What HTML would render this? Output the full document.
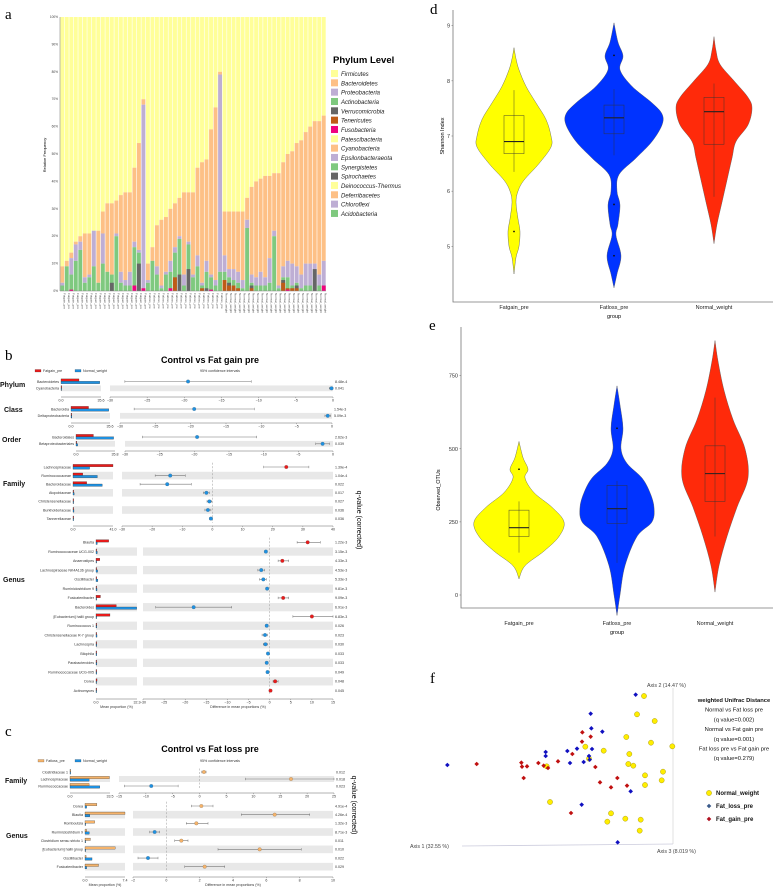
<!DOCTYPE html>
<html><head><meta charset="utf-8"><style>
html,body{margin:0;padding:0;background:#fff;}
svg{display:block;font-family:"Liberation Sans",sans-serif;}
</style></head><body>
<svg id="fig" width="778" height="887" viewBox="0 0 778 887" xmlns="http://www.w3.org/2000/svg">
<text x="5" y="19" font-family="Liberation Serif" font-size="15">a</text>
<text x="5" y="360" font-family="Liberation Serif" font-size="15">b</text>
<text x="5" y="736" font-family="Liberation Serif" font-size="15">c</text>
<text x="430" y="14" font-family="Liberation Serif" font-size="15">d</text>
<text x="429" y="330" font-family="Liberation Serif" font-size="15">e</text>
<text x="430" y="683" font-family="Liberation Serif" font-size="15">f</text>
<text x="210" y="363" font-size="9" font-weight="bold" text-anchor="middle">Control vs Fat gain pre</text>
<text x="210" y="752" font-size="9" font-weight="bold" text-anchor="middle">Control vs Fat loss pre</text>
<text x="333" y="63" font-size="9.5" font-weight="bold">Phylum Level</text>
<text transform="translate(46,155) rotate(-90)" font-size="4" text-anchor="middle">Relative Frequency</text>
<text transform="translate(357,520) rotate(90)" font-size="7" text-anchor="middle">q-value (corrected)</text>
<text transform="translate(352,805) rotate(90)" font-size="7" text-anchor="middle">q-value (corrected)</text>
<text transform="translate(444,136) rotate(-90)" font-size="5.5" text-anchor="middle">Shannon Index</text>
<text transform="translate(440,490) rotate(-90)" font-size="5.5" text-anchor="middle">Observed_OTUs</text>
<text x="614" y="318" font-size="5.5" text-anchor="middle">group</text>
<text x="617" y="634" font-size="5.5" text-anchor="middle">group</text>
</svg>
<script>
// ---------- Panel a data ----------
const aTotals=[9,11,14,18,20,21,21,22,22,29,32,32,33,35,36,36,45,54,70,10,16,24,26,27,30,32,34,36,36,36,45,47,48,59,67,80,29,29,29,29,29,34,38,40,41,42,42,43,43,47,50,51,54,55,58,60,62,62,64];
const aProteo=[3,9,12,17,18,5,6,22,3,21,7,6,21,7,4,7,18,15,68,4,11,9,2,7,11,16,20,6,18,6,13,3,11,6,4,79,13,8,8,7,4,26,6,5,7,5,12,22,2,9,11,10,9,6,10,10,10,6,11];
const aActino=[2,9,6,11,15,3,5,9,3,10,7,6,20,3,2,2,16,14,1,3,11,6,1,6,7,14,19,2,17,5,9,2,7,5,2,7,7,5,4,3,1,23,3,2,2,2,3,20,1,5,5,2,3,1,2,2,1,2,2];
const aVerruco=[0,0,0,0,0,0,0,0,0,0,0,3,0,0,0,0,0,10,0,0,0,0,0,0,0,0,6,0,8,0,0,0,1,0,0,0,0,3,1,0,0,0,2,0,0,0,0,0,0,4,0,0,2,0,0,0,8,0,0];
const aTeneri=[0,0,0,0,0,0,0,0,0,0,0,0,0,0,0,0,0,0,0,0,0,0,0,0,0,5,0,0,0,0,0,1,0,0,0,0,4,2,2,1,0,0,1,0,0,0,0,0,0,3,1,1,1,0,0,0,0,0,0];
const aFuso=[0,0,0.5,0,0,0,0,0,0,0,0,0,0,0,0,0,2,0,1,0,0,0,0,0,1,0,0,0,0,0,0,0,0,0.5,0,0,0,0,0,0,0,0,0,0,0,0,0,0,0,0,0.5,0,0,0,0,0,0,0,2];
const aGroupSizes=[19,17,23];
const aGroupNames=["Fatgain_pre","Fatloss_pre","Normal_weight"];
const aTicks=[0,10,20,30,40,50,60,70,80,90,100];
const phylaNames=["Firmicutes","Bacteroidetes","Proteobacteria","Actinobacteria","Verrucomicrobia","Tenericutes","Fusobacteria","Patescibacteria","Cyanobacteria","Epsilonbacteraeota","Synergistetes","Spirochaetes","Deinococcus-Thermus","Deferribacetes","Chloroflexi","Acidobacteria"];
const phylaColors=["#ffff99","#fdc086","#beaed4","#7fc97f","#666666","#bf5b17","#f0027f","#ffff99","#fdc086","#beaed4","#7fc97f","#666666","#ffff99","#fdc086","#beaed4","#7fc97f"];

// ---------- Panel b data ----------
const bPhylumNames=["Bacteroidetes","Cyanobacteria"];
const bPhylumA=[16,0.1]; const bPhylumB=[34.5,0.3];
const bPhylumDiff=[-19.5,-0.2]; const bPhylumLo=[-28,-0.5]; const bPhylumHi=[-11,0];
const bPhylumQ=["8.48e-4","0.041"];
const bClassNames=["Bacteroidia","Deltaproteobacteria"];
const bClassA=[16,0.3]; const bClassB=[34.5,0.8];
const bClassDiff=[-19.5,-0.6]; const bClassLo=[-28,-1]; const bClassHi=[-11,-0.2];
const bClassQ=["1.54e-3","5.09e-3"];
const bOrderNames=["Bacteroidales","Betaproteobacteriales"];
const bOrderA=[16,0.5]; const bOrderB=[34.5,1.5];
const bOrderDiff=[-19.6,-1.5]; const bOrderLo=[-27.5,-2.5]; const bOrderHi=[-11,-0.5];
const bOrderQ=["2.62e-3","0.039"];
const bFamilyNames=["Lachnospiraceae","Ruminococcaceae","Bacteroidaceae","Atopobiaceae","Christensenellaceae","Burkholderiaceae","Tannerellaceae"];
const bFamilyA=[41,10,14,0.3,0.2,0.3,0.2]; const bFamilyB=[17,25,30,1.2,0.6,1.0,0.5];
const bFamilyDiff=[24.5,-14,-15,-2,-1,-1.5,-0.5]; const bFamilyLo=[17,-19,-24,-3,-1.8,-2.5,-1]; const bFamilyHi=[32,-9,-7,-1,-0.2,-0.5,0];
const bFamilyQ=["1.39e-4","1.04e-4","0.022","0.017","0.027","0.036","0.036"];
const bGenusNames=["Blautia","Ruminococcaceae UCG-002","Anaerostipes","Lachnospiraceae NK4A136 group","Oscillibacter","Ruminiclostridium 9","Fusicatenibacter","Bacteroides","[Eubacterium] hallii group","Ruminococcus 1","Christensenellaceae R-7 group","Lachnospira","Bilophila","Parabacteroides","Ruminococcaceae UCG-005","Dorea","Actinomyces"];
const bGenusA=[10,0.1,3,0.2,0.5,0.1,3.5,16,11,0.1,0.1,0.1,0.1,0.1,0.1,0.8,0.2];
const bGenusB=[1,1,0.3,1.3,1.5,0.8,0.5,32,0.5,0.6,0.8,0.6,0.6,0.7,0.6,0.1,0];
const bGenusDiff=[9,-0.9,3,-2,-1.5,-0.6,3.2,-18,10,-0.7,-1.1,-1,-0.4,-0.7,-0.5,1.3,0.2];
const bGenusLo=[6.5,-1.2,2,-2.8,-2.4,-0.9,2,-27,5.5,-1,-1.8,-1.5,-0.7,-1,-0.8,0.8,0];
const bGenusHi=[12,-0.6,4.5,-1.2,-0.8,-0.3,4.5,-9,15,-0.4,-0.5,-0.5,-0.1,-0.4,-0.2,2,0.4];
const bGenusQ=["1.22e-3","3.15e-3","4.33e-3","4.53e-3","5.33e-3","9.81e-3","9.09e-3","6.91e-3","6.83e-3","0.026","0.023","0.030","0.033","0.033","0.049","0.048","0.045"];

// ---------- Panel c data ----------
const cFamilyNames=["Clostridiaceae 1","Lachnospiraceae","Ruminococcaceae"];
const cFamilyA=[0.3,33,16]; const cFamilyB=[0,16,25];
const cFamilyDiff=[0.8,17,-9]; const cFamilyLo=[0.4,8.5,-14]; const cFamilyHi=[1.2,25,-4];
const cFamilyQ=["0.012","0.018","0.023"];
const cGenusNames=["Dorea","Blautia","Romboutsia","Ruminiclostridium 9","Clostridium sensu stricto 1","[Eubacterium] hallii group","Oscillibacter","Fusicatenibacter"];
const cGenusA=[2.2,7.4,1.8,0.3,1.0,5.6,0.2,2.5]; const cGenusB=[0.3,0.9,0.1,0.8,0.1,0.1,1.3,0.3];
const cGenusDiff=[2.1,6.5,1.8,-0.7,0.9,5.6,-1.1,2.3]; const cGenusLo=[1.5,4.5,1.2,-1,0.5,3.1,-1.7,1.1]; const cGenusHi=[2.8,8.6,2.5,-0.4,1.3,8.1,-0.5,3.5];
const cGenusQ=["4.91e-4","4.26e-4","1.32e-3","8.71e-3","0.011","0.010","0.022","0.029"];

// ---------- Panel d / e data ----------
const violinGroups=["Fatgain_pre","Fatloss_pre","Normal_weight"];
const violinColors=["#ffff00","#0033ff","#ff2a0a"];
const dTicks=[5,6,7,8,9];
const dY=[[4.5,4.8,5.0,5.27,5.5,5.8,6.0,6.2,6.5,6.8,7.0,7.3,7.6,7.9,8.2,8.4,8.6],[4.25,4.5,4.83,5.2,5.4,5.75,6.0,6.3,6.6,6.9,7.2,7.4,7.6,7.9,8.2,8.45,8.7,9.05],[5.05,5.4,5.8,6.2,6.6,6.9,7.2,7.5,7.7,8.0,8.3,8.55,8.8]];
const dDensity=[[0,2,5,6,4,2,4,10,25,37,37,32,22,12,5,2,0],[0,3,7,2,4,6,3,5,22,38,48,48,38,18,6,9,4,0],[0,3,8,13,18,22,34,38,34,20,6,2,0]];
const dQ1=[6.68,7.04,6.85]; const dMed=[6.9,7.33,7.44]; const dQ3=[7.37,7.56,7.7]; const dLow=[6.35,6.65,5.9]; const dHigh=[7.83,7.85,7.95];
const dOutliers=[[5.27],[5.76,4.83,8.46],[]];
const eTicks=[0,250,500,750];
const eY=[[55,100,150,200,250,300,350,400,430,470,525],[-70,0,100,200,250,300,350,400,450,500,570,650,715],[10,100,200,300,400,500,600,700,800,870]];
const eDensity=[[0,6,25,40,45,33,15,6,9,4,0],[0,3,8,20,35,37,33,25,10,4,6,3,0],[0,4,12,22,33,30,18,9,3,0]];
const eQ1=[200,245,320]; const eMed=[230,295,415]; const eQ3=[290,375,510]; const eLow=[145,110,200]; const eHigh=[320,390,675];
const eOutliers=[[430],[570],[]];

// ---------- Panel f data ----------
const fNormalX=[-0.087,-0.108,-0.055,-0.14,-0.066,-0.002,-0.208,-0.263,-0.131,-0.134,-0.119,-0.252,-0.084,-0.03,-0.034,-0.084,-0.369,-0.186,-0.143,-0.097,-0.197,-0.1,-0.379];
const fNormalY=[0.444,0.389,0.369,0.321,0.304,0.293,0.28,0.292,0.27,0.24,0.235,0.256,0.206,0.217,0.191,0.177,0.126,0.092,0.076,0.073,0.067,0.04,0.233];
const fLossX=[-0.112,-0.247,-0.245,-0.212,-0.288,-0.243,-0.382,-0.382,-0.317,-0.252,-0.25,-0.309,-0.268,-0.127,-0.274,-0.166,-0.677];
const fLossY=[0.448,0.391,0.347,0.337,0.286,0.285,0.276,0.264,0.279,0.264,0.253,0.243,0.246,0.158,0.118,0.005,0.237];
const fGainX=[-0.589,-0.455,-0.453,-0.438,-0.404,-0.388,-0.375,-0.448,-0.345,-0.302,-0.272,-0.247,-0.273,-0.233,-0.219,-0.186,-0.167,-0.138,-0.306];
const fGainY=[0.24,0.244,0.232,0.233,0.243,0.235,0.228,0.198,0.248,0.27,0.335,0.322,0.307,0.231,0.185,0.17,0.198,0.175,0.093];

const NS="http://www.w3.org/2000/svg";
const svg=document.getElementById('fig');
function mk(tag,attrs,parent){const e=document.createElementNS(NS,tag);for(const k in attrs)e.setAttribute(k,attrs[k]);(parent||svg).appendChild(e);return e;}
function tx(x,y,s,attrs,parent){const e=mk('text',Object.assign({x:x,y:y},attrs||{}),parent);e.textContent=s;return e;}

// ===== Panel a =====
(function(){
 const g=mk('g',{});
 
 
 const x0=60,x1=326,y0=291,y1=17;
 const n=aTotals.length, bw=(x1-x0)/n;
 const ya=v=>y0-(v/100)*(y0-y1);
 const xa=i=>x0+i*bw;
 function seg(i,lo,hi,col,name){ if(hi<=lo)return; const r=mk('rect',{x:xa(i)+0.3,y:ya(hi),width:bw-0.6,height:ya(lo)-ya(hi),fill:col},g);
  
  }
 for(let i=0;i<n;i++){
  seg(i,aTotals[i],100,'#ffff99','bar-firmicutes');
  seg(i,aProteo[i],aTotals[i],'#fdc086','bar-bacteroidetes');
  seg(i,aActino[i],aProteo[i],'#beaed4','bar-proteobacteria');
  seg(i,0,aActino[i],'#7fc97f','bar-actinobacteria');
  seg(i,0,aVerruco[i],'#666666','bar-verrucomicrobia');
  seg(i,0,aTeneri[i],'#bf5b17','bar-tenericutes');
  seg(i,0,aFuso[i],'#f0027f','bar-fusobacteria');
 }
 const ax=mk('line',{x1:x0,y1:y0,x2:x0,y2:y1,stroke:'#888','stroke-width':0.6},g);
 
 
 const bx=mk('line',{x1:x0,y1:y0,x2:x1,y2:y0,stroke:'#888','stroke-width':0.6},g);
 
 
 aTicks.forEach(t=>{const l=tx(x0-2,ya(t)+1,t+'%',{'font-size':3.2,'text-anchor':'end',fill:'#444'},g);
  
  });
 let k=0;
 aGroupSizes.forEach((s,gi)=>{for(let j=0;j<s;j++){const cx=xa(k)+bw/2+1;
   const l=tx(0,0,aGroupNames[gi],{'font-size':3,fill:'#555',transform:`translate(${cx},${y0+2}) rotate(90)`},g);
   
   k++;}});
 phylaNames.forEach((p,i)=>{const yy=70+i*9.33;
  const sw=mk('rect',{x:331,y:yy,width:7,height:7,fill:phylaColors[i]});
  
  
  const t=tx(341,yy+6,p,{'font-size':6,'font-style':'italic',fill:'#222'});
  
  });
})();

// ===== Extended error bar sections =====
function section(o){
 const g=mk('g',{});
 
 
 const n=o.names.length;
 const lx=v=>o.lx0+(v/o.lmax)*(o.lx1-o.lx0);
 const rx=v=>o.rx0+(v-o.dmin)/(o.dmax-o.dmin)*(o.rx1-o.rx0);
 const ry=i=>o.y0+i*o.step;
 for(let i=0;i<n;i++){
  if(i%2===1){
   const b1=mk('rect',{x:o.lx0,y:ry(i)-o.step/2+0.5,width:o.lx1-o.lx0,height:o.step-1,fill:'#e8e8e8'},g);
   
   
   const b2=mk('rect',{x:o.rx0,y:ry(i)-o.step/2+0.5,width:o.rx1-o.rx0,height:o.step-1,fill:'#e8e8e8'},g);
   
   
  }
 }
 if(o.dmax>0){const z=mk('line',{x1:rx(0),x2:rx(0),y1:ry(0)-o.step/2,y2:ry(n-1)+o.step/2,stroke:'#999','stroke-width':0.5,'stroke-dasharray':'2,1.5'},g);
  
  }
 for(let i=0;i<n;i++){
  const y=ry(i);
  const lab=tx(o.lx0-2,y+1.3,o.names[i],{'font-size':3.6,'text-anchor':'end',fill:'#333'},g);
  
  
  const ba=mk('rect',{x:o.lx0,y:y-2.6,width:Math.max(0.6,lx(o.A[i])-o.lx0),height:2.4,fill:o.colA,stroke:'#222','stroke-width':0.25},g);
  
  
  const bb=mk('rect',{x:o.lx0,y:y-0.2,width:Math.max(0.6,lx(o.B[i])-o.lx0),height:2.4,fill:'#1e90e0',stroke:'#222','stroke-width':0.25},g);
  
  
  const ci=mk('line',{x1:rx(o.lo[i]),x2:rx(o.hi[i]),y1:y,y2:y,stroke:'#777','stroke-width':0.6},g);
  
  
  [o.lo[i],o.hi[i]].forEach(v=>{const c=mk('line',{x1:rx(v),x2:rx(v),y1:y-1.2,y2:y+1.2,stroke:'#777','stroke-width':0.5},g);
   
   });
  const dot=mk('circle',{cx:rx(o.diff[i]),cy:y,r:1.8,fill:o.diff[i]>0?o.colA:'#1e90e0',stroke:'#555','stroke-width':0.2},g);
  
  
  const q=tx(o.rx1+2,y+1.3,o.q[i],{'font-size':3.6,fill:'#333'},g);
  
  
 }
 const ay=o.axisY;
 const la=mk('line',{x1:o.lx0,x2:o.lx1,y1:ay,y2:ay,stroke:'#666','stroke-width':0.5},g);
 
 
 [[0,'0.0'],[o.lmax,o.lmax.toFixed(1)]].forEach(([v,s])=>{const t=tx(lx(v),ay+4.5,s,{'font-size':3.6,'text-anchor':'middle',fill:'#333'},g);
  
  });
 const ra=mk('line',{x1:o.rx0,x2:o.rx1,y1:ay,y2:ay,stroke:'#666','stroke-width':0.5},g);
 
 
 for(let v=o.dmin;v<=o.dmax+1e-9;v+=o.dstep){
  const tk=mk('line',{x1:rx(v),x2:rx(v),y1:ay,y2:ay+1.2,stroke:'#666','stroke-width':0.4},g);
  
  
  const t=tx(rx(v),ay+4.5,(v<0?'\u2212'+(-v):String(v)),{'font-size':3.6,'text-anchor':'middle',fill:'#333'},g);
  
  
 }
 if(o.footer){
  const t1=tx((o.lx0+o.lx1)/2,ay+9,'Mean proportion (%)',{'font-size':3.6,'text-anchor':'middle',fill:'#333'},g);
  
  
  const t2=tx((o.rx0+o.rx1)/2,ay+9,'Difference in mean proportions (%)',{'font-size':3.6,'text-anchor':'middle',fill:'#333'},g);
  
  
 }
 const lbl=tx(o.labelX,o.labelY,o.label,{'font-size':7,'font-weight':'bold',fill:'#111'});
 
 
}
const RED='#e81b1b', ORG='#f5b36a';
section({name:'b-phylum',names:bPhylumNames,A:bPhylumA,B:bPhylumB,diff:bPhylumDiff,lo:bPhylumLo,hi:bPhylumHi,q:bPhylumQ,colA:RED,y0:381.5,step:6.8,lx0:61,lx1:101,lmax:35.6,rx0:110,rx1:333,dmin:-30,dmax:0,dstep:5,axisY:397,label:'Phylum',labelX:0,labelY:387});
section({name:'b-class',names:bClassNames,A:bClassA,B:bClassB,diff:bClassDiff,lo:bClassLo,hi:bClassHi,q:bClassQ,colA:RED,y0:409,step:6.8,lx0:71,lx1:110,lmax:35.6,rx0:120,rx1:332,dmin:-30,dmax:0,dstep:5,axisY:423,label:'Class',labelX:4,labelY:412});
section({name:'b-order',names:bOrderNames,A:bOrderA,B:bOrderB,diff:bOrderDiff,lo:bOrderLo,hi:bOrderHi,q:bOrderQ,colA:RED,y0:437,step:6.8,lx0:76,lx1:115,lmax:35.8,rx0:125,rx1:333,dmin:-30,dmax:0,dstep:5,axisY:451,label:'Order',labelX:2,labelY:442});
section({name:'b-family',names:bFamilyNames,A:bFamilyA,B:bFamilyB,diff:bFamilyDiff,lo:bFamilyLo,hi:bFamilyHi,q:bFamilyQ,colA:RED,y0:467,step:8.6,lx0:73,lx1:113,lmax:41,rx0:122,rx1:333,dmin:-30,dmax:40,dstep:10,axisY:526,label:'Family',labelX:3,labelY:486});
section({name:'b-genus',names:bGenusNames,A:bGenusA,B:bGenusB,diff:bGenusDiff,lo:bGenusLo,hi:bGenusHi,q:bGenusQ,colA:RED,y0:542.3,step:9.27,lx0:96,lx1:137,lmax:32.3,rx0:143,rx1:333,dmin:-30,dmax:15,dstep:5,axisY:699,label:'Genus',labelX:3,labelY:582,footer:true});
section({name:'c-family',names:cFamilyNames,A:cFamilyA,B:cFamilyB,diff:cFamilyDiff,lo:cFamilyLo,hi:cFamilyHi,q:cFamilyQ,colA:ORG,y0:772,step:7,lx0:70,lx1:110,lmax:33.5,rx0:119,rx1:334,dmin:-15,dmax:25,dstep:5,axisY:793,label:'Family',labelX:5,labelY:783});
section({name:'c-genus',names:cGenusNames,A:cGenusA,B:cGenusB,diff:cGenusDiff,lo:cGenusLo,hi:cGenusHi,q:cGenusQ,colA:ORG,y0:806,step:8.67,lx0:85,lx1:125,lmax:7.4,rx0:133,rx1:333,dmin:-2,dmax:10,dstep:2,axisY:877,label:'Genus',labelX:6,labelY:838,footer:true});
[[35,372,RED,'Fatgain_pre'],[75,372,'#1e90e0','Normal_weight'],[38,762,ORG,'Fatloss_pre'],[75,762,'#1e90e0','Normal_weight']].forEach(([x,y,c,s])=>{
 const r=mk('rect',{x:x,y:y-2.5,width:6,height:2.5,fill:c,stroke:'#333','stroke-width':0.2});
 
 
 const t=tx(x+8,y,s,{'font-size':3.6,fill:'#333'});
 
 });
[[220,372],[220,762]].forEach(([x,y])=>{const t=tx(x,y,'95% confidence intervals',{'font-size':3.6,'text-anchor':'middle',fill:'#333'});
 
 });

// ===== Violins =====
function smoothPath(pts){
 let d=`M${pts[0][0]},${pts[0][1]}`;
 for(let i=0;i<pts.length-1;i++){
  const p0=pts[Math.max(0,i-1)],p1=pts[i],p2=pts[i+1],p3=pts[Math.min(pts.length-1,i+2)];
  const c1=[p1[0]+(p2[0]-p0[0])/6,p1[1]+(p2[1]-p0[1])/6];
  const c2=[p2[0]-(p3[0]-p1[0])/6,p2[1]-(p3[1]-p1[1])/6];
  d+=` C${c1[0]},${c1[1]} ${c2[0]},${c2[1]} ${p2[0]},${p2[1]}`;
 }
 return d+'Z';
}
function violin(o){
 const g=mk('g',{});
 
 
 const sy=v=>o.py0-(v-o.v0)*o.k;
 const ax=mk('path',{d:`M${o.axX},${o.axTop} V${o.axBot} H773`,fill:'none',stroke:'#777','stroke-width':0.8},g);
 
 
 o.ticks.forEach(t=>{const l=tx(o.axX-3,sy(t)+2,String(t),{'font-size':5.5,'text-anchor':'end',fill:'#333'},g);
  
  
  const tk=mk('line',{x1:o.axX-1.5,x2:o.axX,y1:sy(t),y2:sy(t),stroke:'#777','stroke-width':0.6},g);
  
  });
 violinGroups.forEach((name,i)=>{
  const cx=o.cx[i];
  const ys=o.Y[i], ws=o.D[i];
  let right=[],left=[];
  for(let j=0;j<ys.length;j++)right.push([cx+ws[j],sy(ys[j])]);
  for(let j=ys.length-1;j>=0;j--)left.push([cx-ws[j],sy(ys[j])]);
  const d=smoothPath(right).replace(/Z$/,'')+' L'+smoothPath(left).slice(1);
  const p=mk('path',{d:d,fill:violinColors[i],stroke:'#555','stroke-width':0.4,'stroke-linejoin':'round'},g);
  
  
  const wl=mk('line',{x1:cx,x2:cx,y1:sy(o.low[i]),y2:sy(o.high[i]),stroke:'#333','stroke-width':0.6,opacity:0.7},g);
  
  
  const b=mk('rect',{x:cx-10,y:sy(o.q3[i]),width:20,height:sy(o.q1[i])-sy(o.q3[i]),fill:'none',stroke:'#333','stroke-width':0.6,opacity:0.75},g);
  
  
  const m=mk('line',{x1:cx-10,x2:cx+10,y1:sy(o.med[i]),y2:sy(o.med[i]),stroke:'#222','stroke-width':1.1},g);
  
  
  o.out[i].forEach(v=>{const c=mk('circle',{cx:cx,cy:sy(v),r:0.9,fill:'#111'},g);
   
   });
  const l=tx(cx,o.labY,name,{'font-size':5.5,'text-anchor':'middle',fill:'#222'},g);
  
  
 });
}
violin({name:'shannon-violin-chart',Y:dY,D:dDensity,q1:dQ1,med:dMed,q3:dQ3,low:dLow,high:dHigh,out:dOutliers,ticks:dTicks,v0:7,py0:136,k:55.2,axX:453,axTop:10,axBot:302,cx:[514,614,714],labY:309});
violin({name:'otus-violin-chart',Y:eY,D:eDensity,q1:eQ1,med:eMed,q3:eQ3,low:eLow,high:eHigh,out:eOutliers,ticks:eTicks,v0:0,py0:595,k:0.2925,axX:461,axTop:327,axBot:608,cx:[519,617,715],labY:625});

// ===== Panel f PCoA =====
(function(){
 const g=mk('g',{});
 
 
 const fx=v=>673+v*333.3, fy=v=>844-v*333.3;
 const a1=mk('line',{x1:462,y1:846,x2:673,y2:844,stroke:'#ccd','stroke-width':0.8},g);
 
 
 const a2=mk('line',{x1:673,y1:688,x2:673,y2:844,stroke:'#ccc','stroke-width':0.6},g);
 
 
 [[410,848,'Axis 1 (32.55 %)','axis-1-label'],[647,687,'Axis 2 (14.47 %)','axis-2-label'],[657,853,'Axis 3 (8.019 %)','axis-3-label']].forEach(([x,y,s,n])=>{
  const t=tx(x,y,s,{'font-size':5.3,fill:'#444'},g);
  
  });
 function diamond(x,y,c){const s=2.3;return mk('polygon',{points:`${x},${y-s} ${x+s},${y} ${x},${y+s} ${x-s},${y}`,fill:c},g);}
 fNormalX.forEach((v,i)=>{const c=mk('circle',{cx:fx(v),cy:fy(fNormalY[i]),r:2.6,fill:'#ffee00',stroke:'#998800','stroke-width':0.4},g);
  
  });
 fLossX.forEach((v,i)=>{const d=diamond(fx(v),fy(fLossY[i]),'#1010c0');
  
  });
 fGainX.forEach((v,i)=>{const d=diamond(fx(v),fy(fGainY[i]),'#c01010');
  
  });
 const lines=['weighted Unifrac Distance','Normal vs Fat loss pre','(q value=0.002)','Normal vs Fat gain pre','(q value=0.001)','Fat loss pre vs Fat gain pre','(q value=0.279)'];
 lines.forEach((s,i)=>{const t=tx(734,702+i*9.7,s,{'font-size':5.8,'font-weight':i===0?'bold':'normal','text-anchor':'middle',fill:'#111'},g);
  
  });
 const lc=mk('circle',{cx:709,cy:793,r:2.6,fill:'#ffee00',stroke:'#998800','stroke-width':0.4},g);
 
 
 const l2=diamond(709,806,'#3a5a8a');
 
 
 const l3=diamond(709,819,'#b01020');
 
 
 [['Normal_weight',795],['Fat_loss_pre',808],['Fat_gain_pre',821]].forEach(([s,y])=>{
  const t=tx(716,y,s,{'font-size':6,'font-weight':'bold',fill:'#111'},g);
  
  });
})();
</script>
</body></html>
